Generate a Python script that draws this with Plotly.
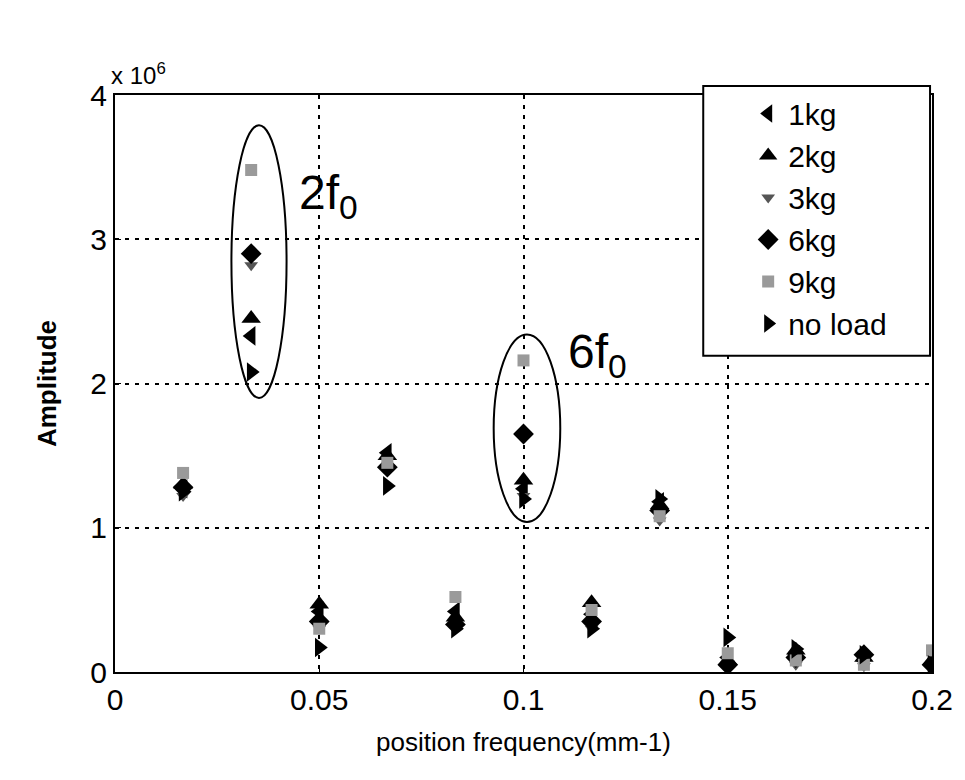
import plotly.graph_objects as go

# position frequency (mm^-1)
freq = [1/60, 2/60, 3/60, 4/60, 5/60, 6/60, 7/60, 8/60, 9/60, 10/60, 11/60, 12/60]

# amplitudes (x 1e6)
amp_1kg    = [1.27, 2.33, 0.42, 1.52, 0.42, 1.27, 0.40, 1.18, 0.10, 0.12, 0.08, 0.06]
amp_2kg    = [1.30, 2.45, 0.47, 1.50, 0.38, 1.33, 0.48, 1.16, 0.08, 0.15, 0.10, 0.08]
amp_3kg    = [1.22, 2.82, 0.30, 1.40, 0.30, 1.22, 0.30, 1.05, 0.06, 0.05, 0.04, 0.03]
amp_6kg    = [1.28, 2.90, 0.35, 1.42, 0.33, 1.65, 0.35, 1.12, 0.05, 0.10, 0.12, 0.05]
amp_9kg    = [1.38, 3.48, 0.30, 1.45, 0.52, 2.16, 0.43, 1.08, 0.13, 0.08, 0.05, 0.15]
amp_noload = [1.25, 2.08, 0.17, 1.29, 0.30, 1.20, 0.30, 1.20, 0.24, 0.16, 0.12, 0.05]

series = [
    ("1kg", amp_1kg, "triangle-left", "black", 17),
    ("2kg", amp_2kg, "triangle-up", "black", 17),
    ("3kg", amp_3kg, "triangle-down", "#555555", 12),
    ("6kg", amp_6kg, "diamond", "black", 16),
    ("9kg", amp_9kg, "square", "#9a9a9a", 12),
    ("no load", amp_noload, "triangle-right", "black", 17),
]

FONT = "Liberation Sans, Arial"

fig = go.Figure()
for name, vals, sym, col, sz in series:
    fig.add_trace(go.Scatter(
        x=freq, y=[v * 1e6 for v in vals], mode="markers", name=name,
        marker=dict(symbol=sym, color=col, size=sz, line=dict(width=0)),
    ))

# ellipses around harmonics
fig.add_shape(type="circle", xref="x", yref="y", x0=0.0285, x1=0.0420,
              y0=1.9e6, y1=3.79e6, line=dict(color="black", width=2))
fig.add_shape(type="circle", xref="x", yref="y", x0=0.0927, x1=0.1090,
              y0=1.04e6, y1=2.34e6, line=dict(color="black", width=2))

# legend frame
fig.add_shape(type="rect", xref="paper", yref="paper", x0=0.720, x1=0.9976,
              y0=0.548, y1=1.0156, layer="above",
              fillcolor="white", line=dict(color="black", width=2))

fig.add_annotation(x=0.0445, y=3.3e6, xref="x", yref="y", text="2f<sub>0</sub>",
                   showarrow=False, xanchor="left", yanchor="middle",
                   font=dict(family=FONT, size=48, color="black"))
fig.add_annotation(x=0.1105, y=2.2e6, xref="x", yref="y", text="6f<sub>0</sub>",
                   showarrow=False, xanchor="left", yanchor="middle",
                   font=dict(family=FONT, size=48, color="black"))
fig.add_annotation(x=0.0, y=1.0, xref="paper", yref="paper", text="x 10<sup>6</sup>",
                   showarrow=False, xanchor="left", yanchor="bottom", xshift=-6, yshift=4,
                   font=dict(family=FONT, size=24, color="black"))

grid_dash = "4px,6px"
fig.update_xaxes(range=[0, 0.2], tickvals=[0, 0.05, 0.1, 0.15, 0.2],
                 ticktext=["0", "0.05", "0.1", "0.15", "0.2"],
                 showline=True, linecolor="black", linewidth=2, mirror=True,
                 ticks="inside", ticklen=6, tickcolor="black",
                 showgrid=True, gridcolor="black", gridwidth=2, griddash=grid_dash,
                 zeroline=False,
                 tickfont=dict(family=FONT, size=30, color="black"),
                 title=dict(text="position frequency(mm-1)",
                            font=dict(family=FONT, size=26, color="black"),
                            standoff=18))
fig.update_yaxes(range=[0, 4e6], tickvals=[0, 1e6, 2e6, 3e6, 4e6],
                 ticktext=["0", "1", "2", "3", "4"],
                 showline=True, linecolor="black", linewidth=2, mirror=True,
                 ticks="inside", ticklen=6, tickcolor="black",
                 showgrid=True, gridcolor="black", gridwidth=2, griddash=grid_dash,
                 zeroline=False,
                 tickfont=dict(family=FONT, size=30, color="black"),
                 title=dict(text="<b>Amplitude</b>",
                            font=dict(family=FONT, size=26, color="black"),
                            standoff=26))

fig.update_layout(
    width=965, height=780,
    margin=dict(l=115, r=28, t=95, b=108),
    plot_bgcolor="white", paper_bgcolor="white",
    legend=dict(x=0.775, y=1.013, xanchor="left", yanchor="top",
                bgcolor="rgba(0,0,0,0)", borderwidth=0,
                font=dict(family=FONT, size=30, color="black"),
                itemsizing="trace", tracegroupgap=0),
    showlegend=True,
)

fig.write_html("out.html")
